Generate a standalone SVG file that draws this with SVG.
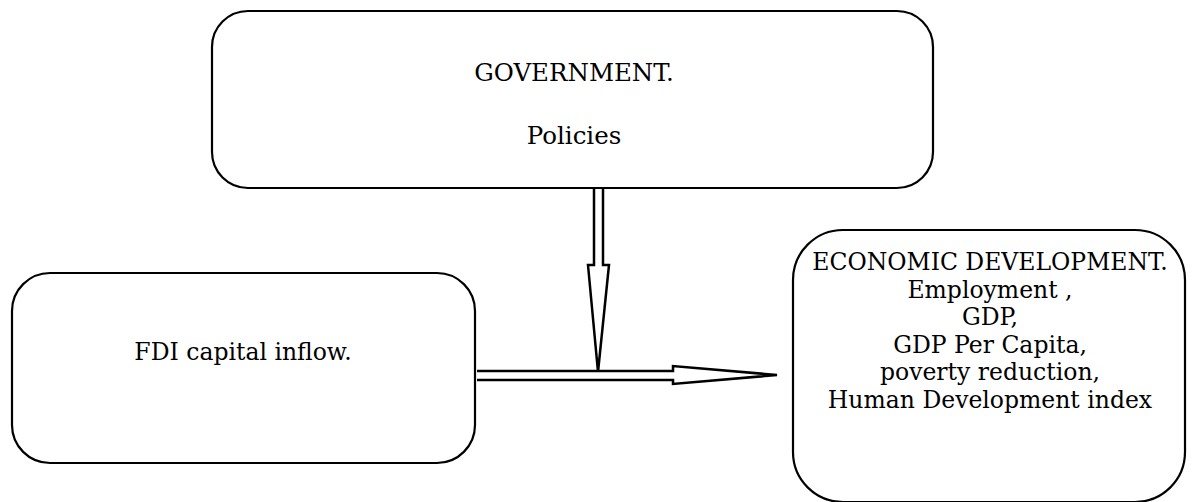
<svg xmlns="http://www.w3.org/2000/svg" width="1192" height="502" viewBox="0 0 1192 502">
<style>
.box{fill:#fff;stroke:#000;stroke-width:2.2}
.arr{fill:#fff;stroke:#000;stroke-width:2.5;stroke-linejoin:miter}
.t{font-family:'DejaVu Serif','Liberation Serif',serif;font-size:23.5px;fill:#000;text-anchor:middle}
.g{font-size:24.5px}
</style>
<rect width="1192" height="502" fill="#fff"/>
<g id="connectors">
<path class="arr" d="M594,188 L594,265 L588,265 L598,372 L609,265 L603,265 L603,188"/>
<path class="arr" d="M477,371 L673,371 L673,366 L777,375 L673,384 L673,380 L477,380"/>
</g>
<g id="government">
<rect class="box" x="212" y="11" width="721" height="177" rx="36" ry="36"/>
<text class="t g" x="574" y="81">GOVERNMENT.</text>
<text class="t g" x="574" y="144">Policies</text>
</g>
<g id="fdi">
<rect class="box" x="12" y="273" width="463" height="190" rx="38" ry="38"/>
<text class="t" x="243" y="360">FDI capital inflow.</text>
</g>
<g id="economic">
<rect class="box" x="793" y="230" width="392" height="272" rx="50" ry="50"/>
<text class="t" x="990" y="270">ECONOMIC DEVELOPMENT.</text>
<text class="t" x="990" y="298">Employment ,</text>
<text class="t" x="990" y="325">GDP,</text>
<text class="t" x="990" y="353">GDP Per Capita,</text>
<text class="t" x="990" y="380">poverty reduction,</text>
<text class="t" x="990" y="408">Human Development index</text>
</g>
</svg>
